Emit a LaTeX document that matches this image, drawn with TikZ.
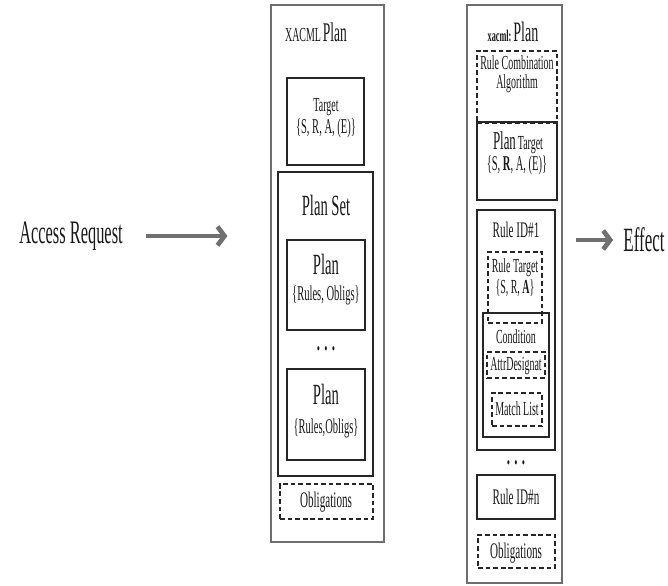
\documentclass[tikz,border=0pt]{standalone}
\usepackage{fontspec}
\setmainfont{Liberation Serif}[FakeStretch=0.5]
\usetikzlibrary{arrows.meta,positioning,fit}
\definecolor{arrowgray}{RGB}{112,112,112}
\definecolor{framegray}{RGB}{110,110,110}
\newcommand{\fsz}[1]{\fontsize{#1}{#1}\selectfont}
\tikzstyle{outerbox} = [rectangle, draw=framegray, line width=0.9pt, inner sep=0pt]
\tikzstyle{solidbox} = [rectangle, draw=black!85, line width=1.3pt, inner sep=0pt]
\tikzstyle{dashbox} = [rectangle, draw=black!85, line width=1.3pt, dash pattern=on 4pt off 2.5pt, inner sep=0pt]
\tikzstyle{txt} = [inner sep=0pt, align=center, text=black!90]
\tikzstyle{arrow} = [line width=4pt, -{Straight Barb[length=6pt,width=16pt]}, color=arrowgray]
\begin{document}
\begin{tikzpicture}[x=0.03cm, y=-0.03cm]
\useasboundingbox (0,0) rectangle (668,586);

% Outer frames
\node[outerbox, fit={(271,5) (384,542)}] (planL) {};
\node[outerbox, fit={(467,5) (562,583)}] (planR) {};

% Left panel: XACML Plan
\node[txt] (titleL) at (316,32) {{\fsz{17}XACML}\,{\fsz{23}Plan}};
\node[solidbox, fit={(287,78) (364,165)}] (target) {};
\node[txt, font=\fsz{17}] (targetname) at (326,107) {Target};
\node[txt, font=\fsz{18}] (targetset) at (326,128) {\{S, R, A, (E)\}};

\node[solidbox, fit={(278,172) (373,476)}] (planset) {};
\node[txt, font=\fsz{25}] (plansetname) at (326,205) {Plan Set};

\node[solidbox, fit={(287,240) (365,330)}] (planA) {};
\node[txt, font=\fsz{25}] (planAname) at (326,264) {Plan};
\node[txt, font=\fsz{18}] (planAbody) at (326,295) {\{Rules, Obligs\}};

\node[txt, font=\fsz{22}\bfseries] (dotsL) at (326,349) {.\,.\,.};

\node[solidbox, fit={(287,369) (365,460)}] (planB) {};
\node[txt, font=\fsz{25}] (planBname) at (326,394) {Plan};
\node[txt, font=\fsz{18}] (planBbody) at (326,428) {\{Rules,Obligs\}};

\node[dashbox, fit={(280,484) (373,519)}] (obligL) {};
\node[txt, font=\fsz{19}] (obligLname) at (326,502) {Obligations};

% Right panel: xacml:Plan
\node[txt] (titleR) at (513,32) {{\fsz{14}\bfseries xacml:}\,{\fsz{24}Plan}};
\node[dashbox, fit={(477,51) (557,123)}] (rca) {};
\node[txt, font=\fsz{17}] (rcaname) at (517,74) {Rule Combination\\[-1pt]Algorithm};

\node[solidbox, fit={(477,122) (557,200)}] (plantarget) {};
\node[txt, anchor=base] (plantargetname) at (518,149) {{\fsz{22}Plan}\,{\fsz{17}Target}};
\node[txt, font=\fsz{18}, anchor=base] (plantargetset) at (517,170) {\{S, \textbf{R}, A, (E)\}};

\node[solidbox, fit={(477,210) (555,450)}] (rule1) {};
\node[txt, font=\fsz{19}] (rule1name) at (516,230) {Rule ID\#1};

\node[dashbox, fit={(488,252) (542,323)}] (ruletarget) {};
\node[txt, font=\fsz{17}] (ruletargetname) at (515,268) {Rule Target};
\node[txt, font=\fsz{17}] (ruletargetset) at (515,288) {\{S, R, \textbf{A}\}};

\node[solidbox, fit={(483,313) (549,437)}] (condition) {};
\node[txt, font=\fsz{17}] (conditionname) at (516,337) {Condition};

\node[dashbox, fit={(487,352) (545,378)}] (attr) {};
\node[txt, font=\fsz{17}] (attrname) at (516,366) {AttrDesignat};

\node[dashbox, fit={(492,393) (542,426)}] (match) {};
\node[txt, font=\fsz{17}] (matchname) at (517,409) {Match List};

\node[txt, font=\fsz{22}\bfseries] (dotsR) at (516,463) {.\,.\,.};

\node[solidbox, fit={(477,475) (555,519)}] (rulen) {};
\node[txt, font=\fsz{19}] (rulenname) at (516,497) {Rule ID\#n};

\node[dashbox, fit={(478,535) (555,568)}] (obligR) {};
\node[txt, font=\fsz{19}] (obligRname) at (516,553) {Obligations};

% Request and effect
\node[txt, font=\fsz{28}] (access) at (71,236) {Access Request};
\node[txt, font=\fsz{29}] (effect) at (644,240) {Effect};

% Arrows
\draw[arrow, shorten <=0.7cm, shorten >=1.29cm] (access.east) -- (planL.west |- access.east);
\draw[arrow, shorten <=0.39cm, shorten >=0.3cm] (planR.east |- effect.west) -- (effect.west);

\end{tikzpicture}
\end{document}
